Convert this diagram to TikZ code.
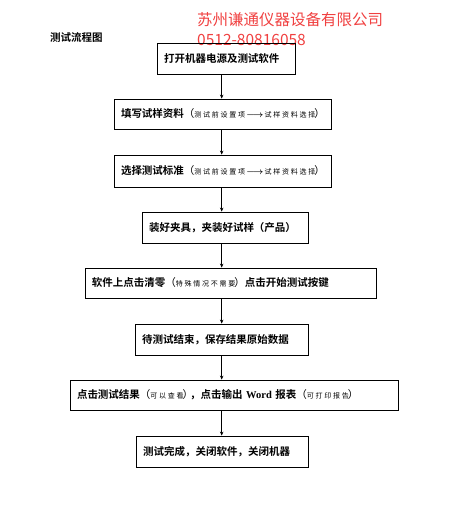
\documentclass[tikz,border=0pt]{standalone}
\usepackage{amsmath}
\usepackage{fontspec}
\usepackage{xcolor}
\usepackage{tikz}
\usetikzlibrary{arrows.meta,positioning}
\newfontfamily\cjk{Noto Sans CJK SC}
\newfontfamily\cjks[LetterSpace=25]{Noto Sans CJK SC}
\newfontfamily\cjkb{Noto Sans CJK SC Bold}
\newfontfamily\wordfont{Liberation Serif}
\definecolor{coRed}{RGB}{240,64,64}
\newcommand{\note}[1]{{\cjk（}{\cjks\fontsize{7}{8}\selectfont #1}{\cjk\kern-1pt）}}
\newcommand{\notearrow}{\,{\fontsize{9}{9}\selectfont$\boldsymbol{\longrightarrow}$}\,}
\tikzset{stepbox/.style={draw,line width=0.8pt,inner xsep=7pt,inner ysep=0pt,minimum height=31pt,align=left,font=\cjkb\fontsize{10.5}{12}\selectfont}}
\begin{document}
\begin{tikzpicture}[x=1pt,y=-1pt,>=Stealth]
\useasboundingbox (0,0) rectangle (454,515);
\node[anchor=west,font=\cjkb\fontsize{10.5}{12}\selectfont,inner sep=0pt] (title) at (50,38) {测试流程图};
\node[anchor=west,font=\cjk\fontsize{15.5}{16}\selectfont,text=coRed,inner sep=0pt] (company) at (197,20) {苏州谦通仪器设备有限公司};
\node[anchor=west,font=\cjk\fontsize{15.5}{16}\selectfont,text=coRed,inner sep=0pt] (phone) at (197,39.5) {0512-80816058};
\coordinate (axis) at (221.7,0);
%boxes
\node[stepbox,text width=124pt] (power) at (226,58.5) {打开机器电源及测试软件};
\node[stepbox,text width=203pt,minimum height=30pt] (sample) at (222.5,114) {填写试样资料\note{测试前设置项\notearrow 试样资料选择}};
\node[stepbox,text width=203pt,minimum height=32pt] (standard) at (222.5,171) {选择测试标准\note{测试前设置项\notearrow 试样资料选择}};
\node[stepbox,text width=152pt] (clamp) at (225,227.5) {装好夹具，夹装好试样（产品）};
\node[stepbox,text width=277pt,minimum height=30pt] (zero) at (230.5,283) {软件上点击清零\note{特殊情况不需要}点击开始测试按键};
\node[stepbox,text width=159pt] (save) at (221.5,339.5) {待测试结束，保存结果原始数据};
\node[stepbox,text width=314pt,minimum height=30pt] (report) at (234,395) {点击测试结果\note{可以查看}\kern-3pt，点击输出 {\wordfont\bfseries Word} 报表\note{可打印报告}};
\node[stepbox,text width=158pt] (close) at (222,451.5) {测试完成，关闭软件，关闭机器};
%arrows
\foreach \a/\b in {power/sample,sample/standard,standard/clamp,clamp/zero,zero/save,save/report,report/close}
  \draw[line width=0.8pt,-{Stealth[length=4pt,width=3.5pt]}] (\a.south -| axis) -- (\b.north -| axis);
\end{tikzpicture}
\end{document}
